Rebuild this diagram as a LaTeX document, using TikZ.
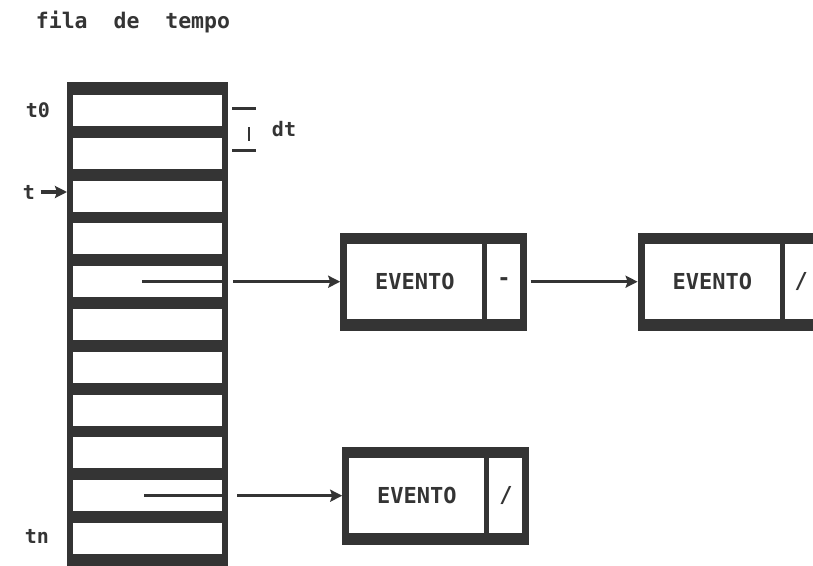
\documentclass[tikz,border=0pt]{standalone}
\usepackage{fontspec}
\setmonofont{DejaVu Sans Mono}
\usepackage{tikz}
\usetikzlibrary{positioning, arrows.meta, calc}
\definecolor{ink}{RGB}{52, 52, 52}

\begin{document}
\begin{tikzpicture}[x=1pt, y=-1pt, >={Stealth[length=12pt, width=12pt, inset=2pt]},
      font=\ttfamily\bfseries\fontsize{20}{24}\selectfont, ink,
      cell/.style={fill=white, minimum width=149pt, minimum height=31pt, inner sep=0pt},
      frame/.style={fill=ink, minimum width=187pt, minimum height=98pt, inner sep=0pt},
      field/.style={fill=white, minimum width=135pt, minimum height=75pt, inner sep=0pt,
        font=\ttfamily\bfseries\fontsize{22}{24}\selectfont},
      ptr/.style={fill=white, minimum width=33pt, minimum height=75pt, inner sep=0pt,
        font=\ttfamily\bfseries\fontsize{22}{24}\selectfont},
      link/.style={line width=3.2pt}]
    \useasboundingbox (0,0) rectangle (813,565);
    % title
    \node (title) at (133,22) {\fontsize{21.5}{24}\selectfont fila\ \ de\ \ tempo};
    % time queue
    \node[fill=ink, minimum width=161pt, minimum height=490pt, inner sep=0pt,
          anchor=north west] (fila) at (67,82) {};
    \foreach \i in {1,...,11}
      \node[cell] (c\i) at (147.5, {110.5+42.8*(\i-1)}) {};
    \node (t0) at (38,110) {t0};
    \node (t)  at (29,192) {t};
    \draw[->, link] (t.east) ++(2,0) coordinate (ta) -- (ta -| fila.west);
    \node (tn) at (37,536) {tn};
    % slot width
    \draw[line width=3pt] (232,108) -- (256,108);
    \draw[line width=3pt] (232,150) -- (256,150);
    \draw[line width=1.8pt] (249,127) -- (249,141);
    \node (dt) at (284,129) {dt};
    % events
    \node[frame, right=118pt of c5] (e1) {};
    \node[field] (e1v) at ($(e1)+(-19,0)$) {EVENTO};
    \node[ptr]   (e1p) at ($(e1)+(70,0)$)  {-};
    \node[frame, right=110pt of e1] (e2) {};
    \node[field] (e2v) at ($(e2)+(-19,0)$) {EVENTO};
    \node[ptr]   (e2p) at ($(e2)+(70,0)$)  {/};
    \node[frame, right=120pt of c10] (e3) {};
    \node[field] (e3v) at ($(e3)+(-19,0)$) {EVENTO};
    \node[ptr]   (e3p) at ($(e3)+(70,0)$)  {/};
    % pointers
    \coordinate (p5) at ($(c5.east)+(-80,0)$);
    \coordinate (q5) at ($(c5.east)+(11,0)$);
    \draw[link] (p5) -- (c5.east);
    \draw[->, link] (q5) -- (e1.west);
    \coordinate (p10) at ($(c10.east)+(-78,0)$);
    \coordinate (q10) at ($(c10.east)+(15,0)$);
    \draw[link] (p10) -- (c10.east);
    \draw[->, link] (q10) -- (e3.west);
    \draw[->, link] ([xshift=3pt]e1.east) -- (e2.west);
  \end{tikzpicture}
\end{document}
